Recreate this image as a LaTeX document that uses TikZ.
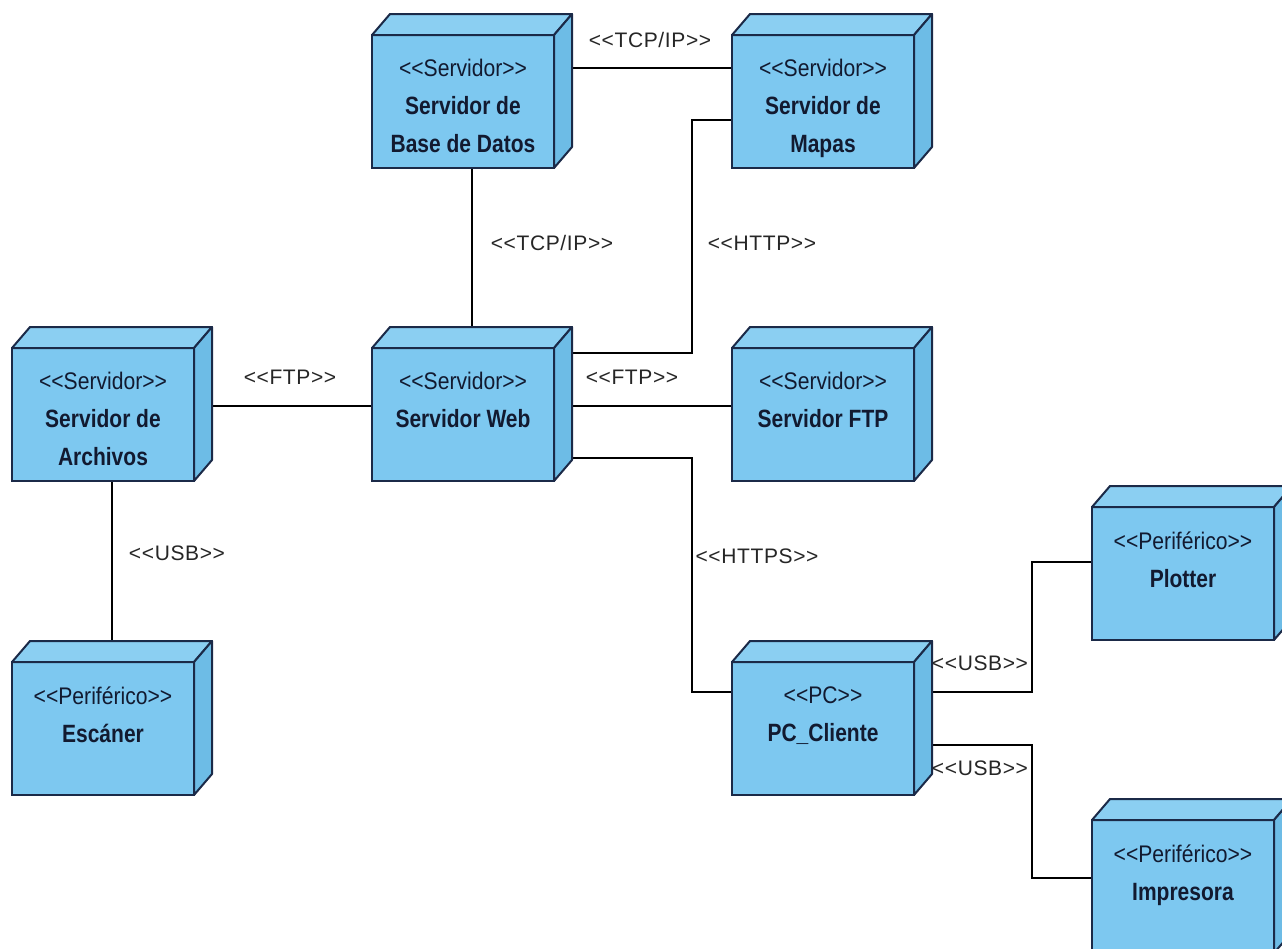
\documentclass[tikz,border=0pt]{standalone}
\usepackage{fontspec}
\setmainfont{Liberation Sans}
\newfontfamily\stfont{Liberation Sans}[FakeStretch=0.88]
\newfontfamily\nmfont{Liberation Sans}[FakeStretch=0.84]
\newfontfamily\lbfont{Liberation Sans}[LetterSpace=3]
\usetikzlibrary{calc,backgrounds}
\definecolor{frontc}{HTML}{7DC8F0}
\definecolor{topc}{HTML}{8BCFF2}
\definecolor{sidec}{HTML}{6DBCE6}
\definecolor{edgec}{HTML}{1B2A48}
\definecolor{txtc}{HTML}{121A30}
\tikzset{
  frontface/.style={draw=edgec, fill=frontc, line width=1pt, minimum width=91pt, minimum height=66.5pt, inner sep=0pt, outer sep=0pt},
  topface/.style={draw=edgec, fill=topc, line width=1pt, line join=round},
  sideface/.style={draw=edgec, fill=sidec, line width=1pt, line join=round},
  boxtext/.style={anchor=north, align=center, inner sep=0pt, text=txtc, font=\nmfont\bfseries\fontsize{12.5}{19}\selectfont},
  conn/.style={draw=black, line width=1pt},
  lbl/.style={font=\lbfont\fontsize{10.5}{12}\selectfont, text=black!85, inner sep=1pt}
}
\newcommand{\umlbox}[5]{%
  \node[frontface] (#1) at (#2+91,#3+66.5) {};
  \filldraw[topface] (#1.north west) -- ++(18,-21) -- ($(#1.north east)+(18,-21)$) -- (#1.north east) -- cycle;
  \filldraw[sideface] (#1.north east) -- ++(18,-21) -- ($(#1.south east)+(18,-21)$) -- (#1.south east) -- cycle;
  \node[boxtext] (#1-txt) at ([yshift=-12pt]#1.north) {{\stfont\mdseries\fontsize{12}{19}\selectfont #4}\\ #5};
}
\begin{document}
\begin{tikzpicture}[x=0.5pt,y=-0.5pt]
\useasboundingbox (0,0) rectangle (1282,949);
\clip (0,0) rectangle (1282,949);

\umlbox{db}{372}{35}{<<Servidor>>}{Servidor de\\Base de Datos}
\umlbox{mapas}{732}{35}{<<Servidor>>}{Servidor de\\Mapas}
\umlbox{archivos}{12}{348}{<<Servidor>>}{Servidor de\\Archivos}
\umlbox{web}{372}{348}{<<Servidor>>}{Servidor Web}
\umlbox{ftp}{732}{348}{<<Servidor>>}{Servidor FTP}
\umlbox{escaner}{12}{662}{<<Periférico>>}{Escáner}
\umlbox{pc}{732}{662}{<<PC>>}{PC\_Cliente}
\umlbox{plotter}{1092}{507}{<<Periférico>>}{Plotter}
\umlbox{impresora}{1092}{820}{<<Periférico>>}{Impresora}

\begin{scope}[on background layer]
\fill[white] (0,0) rectangle (1282,949);
\draw[conn] ($(db.north east)+(0,33)$) -- ($(mapas.north west)+(0,33)$);
\draw[conn] ($(db.south)+(9,0)$) -- ($(web.north)+(9,0)$);
\draw[conn] ($(web.north east)+(0,5)$) -| ($(mapas.north west)+(-40,85)$) -- ($(mapas.north west)+(0,85)$);
\draw[conn] ($(archivos.north east)+(0,58)$) -- ($(web.north west)+(0,58)$);
\draw[conn] ($(web.north east)+(0,58)$) -- ($(ftp.north west)+(0,58)$);
\draw[conn] ($(web.north east)+(0,110)$) -| ($(pc.north west)+(-40,30)$) -- ($(pc.north west)+(0,30)$);
\draw[conn] ($(archivos.south)+(9,0)$) -- ($(escaner.north)+(9,0)$);
\draw[conn] ($(pc.north east)+(0,30)$) -| ($(plotter.north west)+(-60,55)$) -- ($(plotter.north west)+(0,55)$);
\draw[conn] ($(pc.north east)+(0,83)$) -| ($(impresora.north west)+(-60,58)$) -- ($(impresora.north west)+(0,58)$);
\end{scope}

\node[lbl] (l1) at (650,40) {<<TCP/IP>>};
\node[lbl] (l2) at (552,243) {<<TCP/IP>>};
\node[lbl] (l3) at (762,243) {<<HTTP>>};
\node[lbl] (l4) at (290,377) {<<FTP>>};
\node[lbl] (l5) at (632,377) {<<FTP>>};
\node[lbl] (l6) at (757,556) {<<HTTPS>>};
\node[lbl] (l7) at (177,553) {<<USB>>};
\node[lbl] (l8) at (980,663) {<<USB>>};
\node[lbl] (l9) at (980,768) {<<USB>>};
\end{tikzpicture}
\end{document}
